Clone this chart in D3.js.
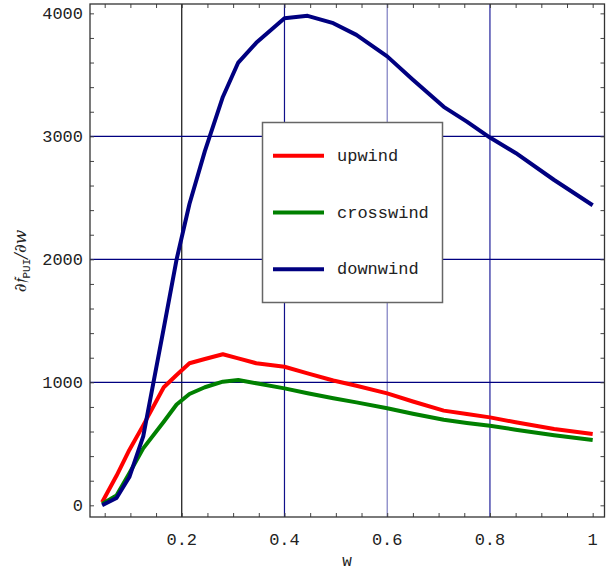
<!DOCTYPE html>
<html>
<head>
<meta charset="utf-8">
<script src="https://cdn.jsdelivr.net/npm/d3@7"></script>
<style>
  body { margin: 0; background: #fff; }
  text { font-family: "Liberation Mono", "Courier New", monospace; }
</style>
</head>
<body>
<svg id="chart" width="615" height="572"></svg>
<script>
(function(){
    // sample points along w
    let wValues = [0.045, 0.073, 0.098, 0.125, 0.165, 0.19, 0.215, 0.245, 0.28, 0.31, 0.345, 0.4,
                   0.445, 0.495, 0.54, 0.6, 0.65, 0.71, 0.755, 0.8, 0.85, 0.925, 1.0]
    let upwind = [25, 240, 450, 650, 960, 1060, 1155, 1190, 1228, 1195, 1155, 1127,
                  1073, 1015, 972, 910, 844, 770, 742, 715, 675, 620, 580]
    let crosswind = [10, 80, 260, 463, 680, 820, 905, 960, 1005, 1019, 992, 951,
                     911, 870, 837, 789, 744, 695, 670, 647, 615, 570, 531]
    let downwind = [0, 60, 230, 560, 1440, 2000, 2450, 2880, 3320, 3600, 3760, 3960,
                    3980, 3920, 3825, 3650, 3460, 3240, 3120, 2990, 2865, 2645, 2440]
    let seriesNames = ["upwind", "crosswind", "downwind"]
    let seriesColors = ["#ff0000", "#008000", "#000080"]
    let xTicks = [0.2, 0.4, 0.6, 0.8, 1]
    let yTicks = [0, 1000, 2000, 3000, 4000]
    let xGrid = [0.2, 0.4, 0.6, 0.8]
    let xGridColors = ["#111111", "#10108a", "#7c7cc0", "#20209a"]
    let yGrid = [1000, 2000, 3000]

    let left = 90, right = 604.5, top = 4, bottom = 517

    let svg = d3.select("svg#chart")

    let xScale = d3.scaleLinear()
        .domain([0.0214, 1.023])
        .range([left, right])

    let yScale = d3.scaleLinear()
        .domain([-95, 4076])
        .range([bottom, top])

    // grid lines
    svg.selectAll("line.vgrid")
        .data(xGrid)
        .enter()
        .append("line")
            .attr("class", "vgrid")
            .attr("x1", (d) => xScale(d))
            .attr("x2", (d) => xScale(d))
            .attr("y1", top)
            .attr("y2", bottom)
            .attr("stroke", (d, i) => xGridColors[i])
            .attr("stroke-width", 1.2)

    svg.selectAll("line.hgrid")
        .data(yGrid)
        .enter()
        .append("line")
            .attr("class", "hgrid")
            .attr("x1", left)
            .attr("x2", right)
            .attr("y1", (d) => yScale(d))
            .attr("y2", (d) => yScale(d))
            .attr("stroke", "#000080")
            .attr("stroke-width", 1.2)

    // ticks on all four sides, pointing inward
    let xMinor = d3.range(0.05, 1.001, 0.05)
    let yMinor = d3.range(0, 4001, 200)

    let bottomAxis = d3.axisBottom(xScale).tickValues(xMinor).tickSizeInner(-4).tickSizeOuter(0).tickFormat("")
    let topAxis = d3.axisTop(xScale).tickValues(xMinor).tickSizeInner(-4).tickSizeOuter(0).tickFormat("")
    let leftAxis = d3.axisLeft(yScale).tickValues(yMinor).tickSizeInner(-4).tickSizeOuter(0).tickFormat("")
    let rightAxis = d3.axisRight(yScale).tickValues(yMinor).tickSizeInner(-4).tickSizeOuter(0).tickFormat("")

    svg.append("g").attr("transform", "translate(0," + bottom + ")").call(bottomAxis)
    svg.append("g").attr("transform", "translate(0," + top + ")").call(topAxis)
    svg.append("g").attr("transform", "translate(" + left + ",0)").call(leftAxis)
    svg.append("g").attr("transform", "translate(" + right + ",0)").call(rightAxis)
    svg.selectAll(".domain").remove()
    svg.selectAll(".tick line").attr("stroke", "#444")

    // frame
    svg.append("rect")
        .attr("x", left)
        .attr("y", top)
        .attr("width", right - left)
        .attr("height", bottom - top)
        .attr("fill", "none")
        .attr("stroke", "#333")
        .attr("stroke-width", 1.3)

    // tick labels
    svg.selectAll("text.xlab")
        .data(xTicks)
        .enter()
        .append("text")
            .attr("class", "xlab")
            .attr("x", (d) => xScale(d))
            .attr("y", 545)
            .attr("text-anchor", "middle")
            .attr("font-size", "17px")
            .attr("fill", "#222")
            .text((d) => d === 1 ? "1" : d3.format(".1f")(d))

    svg.selectAll("text.ylab")
        .data(yTicks)
        .enter()
        .append("text")
            .attr("class", "ylab")
            .attr("x", 83)
            .attr("y", (d) => yScale(d) + 6)
            .attr("text-anchor", "end")
            .attr("font-size", "17px")
            .attr("fill", "#222")
            .text((d) => d)

    // axis titles
    svg.append("text")
        .attr("x", 347)
        .attr("y", 566)
        .attr("text-anchor", "middle")
        .attr("font-size", "16px")
        .attr("fill", "#222")
        .text("w")

    let ylab = svg.append("text")
        .attr("transform", "translate(26,261) rotate(-90)")
        .attr("text-anchor", "middle")
        .attr("font-size", "17px")
        .attr("fill", "#222")
    ylab.append("tspan").attr("font-family", "DejaVu Serif").attr("font-style", "italic").text("\u2202\uD835\uDD23")
    ylab.append("tspan").attr("font-size", "11px").attr("dy", 4).text("PUI")
    ylab.append("tspan").attr("dy", -4).attr("font-family", "DejaVu Serif").attr("font-style", "italic").text("/\u2202w")

    // curves
    let allSeries = [upwind, crosswind, downwind]
    let line = d3.line()
        .x((d, i) => xScale(wValues[i]))
        .y((d) => yScale(d))

    svg.selectAll("path.curve")
        .data(allSeries)
        .enter()
        .append("path")
            .attr("class", "curve")
            .attr("d", (d) => line(d))
            .attr("fill", "none")
            .attr("stroke", (d, i) => seriesColors[i])
            .attr("stroke-width", 4)
            .attr("stroke-linejoin", "round")

    // legend
    let legend = svg.append("g")
    legend.append("rect")
        .attr("x", 262.5)
        .attr("y", 122.5)
        .attr("width", 180)
        .attr("height", 180)
        .attr("fill", "#fff")
        .attr("stroke", "#666")
        .attr("stroke-width", 1.5)

    let legendY = d3.scalePoint()
        .domain(seriesNames)
        .range([155.7, 269.3])

    legend.selectAll("line")
        .data(seriesNames)
        .enter()
        .append("line")
            .attr("x1", 273)
            .attr("x2", 324)
            .attr("y1", (d) => legendY(d))
            .attr("y2", (d) => legendY(d))
            .attr("stroke", (d, i) => seriesColors[i])
            .attr("stroke-width", 4)

    legend.selectAll("text")
        .data(seriesNames)
        .enter()
        .append("text")
            .attr("x", 337)
            .attr("y", (d) => legendY(d) + 5)
            .attr("font-size", "17px")
            .attr("fill", "#222")
            .text((d) => d)
})()
</script>
</body>
</html>
